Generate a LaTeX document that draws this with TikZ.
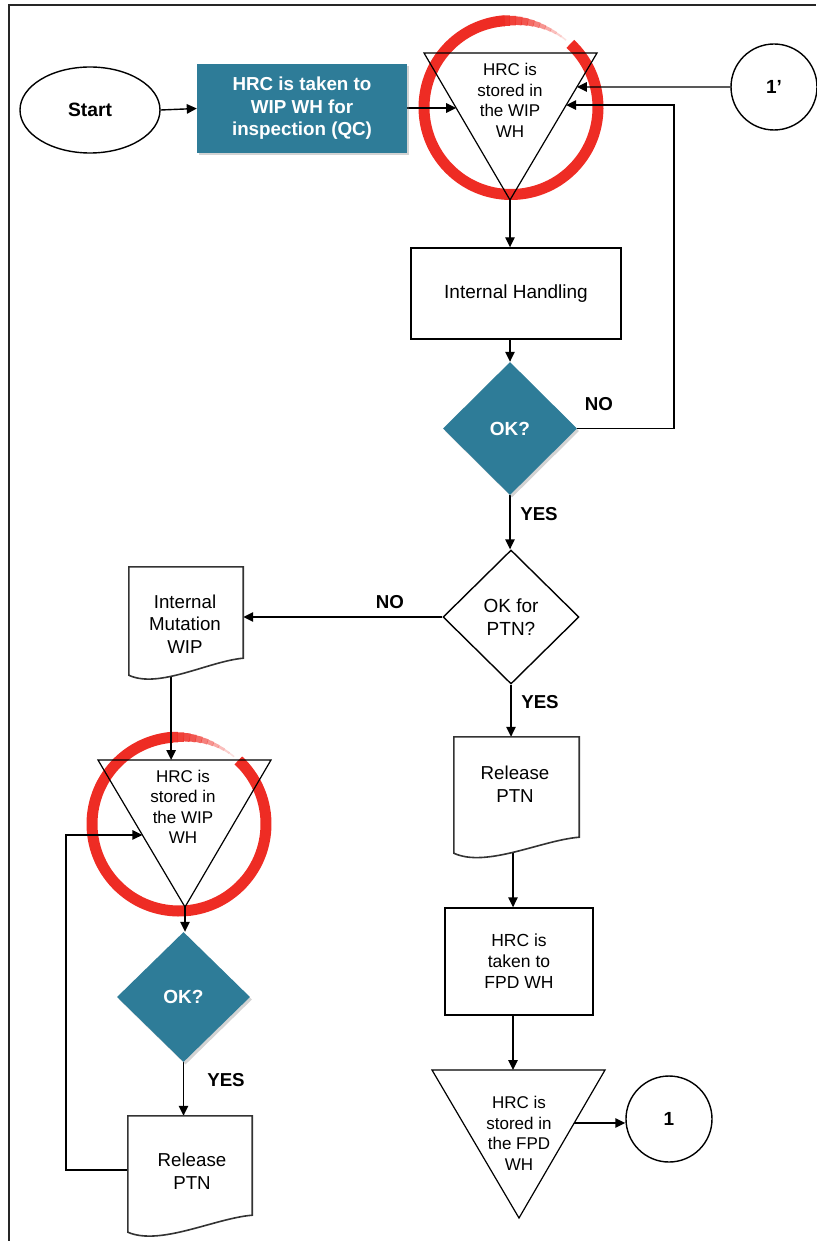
\documentclass[tikz,border=0pt]{standalone}
\usepackage{fontspec}
\setmainfont{Liberation Sans}
\usetikzlibrary{shapes.geometric,arrows.meta,calc,shadows}
\pgfdeclarelayer{back}
\pgfsetlayers{back,main}

\definecolor{qcblue}{RGB}{46,124,152}
\definecolor{ringred}{RGB}{238,44,36}

% document symbol: straight top and sides, wavy bottom edge
\newcommand\docoutline[2]{%
  \filldraw[docline] (#1.north west) -- (#1.north east) -- (#1.south east)
    .. controls ($(#1.south west)!0.70!(#1.south east)+(0,3)$)
       and ($(#1.south west)!0.26!(#1.south east)+(0,31)$)
    .. ($(#1.south west)+(0,#2)$) -- cycle;}

% hand-drawn highlight ring, open at the upper right, tapering out at its end
\newcommand\brushring[1]{%
  \draw[ringred, line width=11pt] ($(#1)+(-47:87)$) arc[start angle=-47, end angle=266, radius=87];
  \foreach \s/\w/\o in {265/10.5/0.95, 269/9.5/0.9, 273/8.5/0.85, 277/7.5/0.8,
                        281/6.5/0.7, 285/5.5/0.6, 289/4.5/0.5, 293/3.5/0.4,
                        297/2.8/0.3, 301/2/0.22, 305/1.5/0.15}
    \draw[ringred, line width=\w pt, opacity=\o]
      ($(#1)+(\s:87)$) arc[start angle=\s, end angle=\s+4.3, radius=87];}

\tikzset{
  arr/.style={draw=black, line width=1.4pt, -{Triangle[length=10pt,width=9.5pt]}},
  shapeline/.style={draw=black, line width=1.4pt},
  docline/.style={draw=black!80, line width=1.6pt, fill=white},
  reg/.style={font=\fontsize{17}{20.5}\selectfont, align=center, text=black},
  docfont/.style={font=\fontsize{18.7}{22.5}\selectfont, align=center, text=black},
  lbl/.style={font=\bfseries\fontsize{18.7}{21}\selectfont, text=black},
  bluefill/.style={fill=qcblue, text=white,
    drop shadow={shadow xshift=2pt, shadow yshift=-2.5pt, opacity=0.35}},
  bluediamond/.style={bluefill, diamond, inner sep=0pt,
    font=\bfseries\fontsize{19}{22}\selectfont},
  procbox/.style={shapeline, rectangle, align=center},
  docbox/.style={rectangle, inner sep=0pt},
  connector/.style={shapeline, circle, inner sep=0pt, minimum size=86pt,
    font=\bfseries\fontsize{19}{22}\selectfont},
}

\begin{document}
\begin{tikzpicture}[x=1pt, y=-1pt]
\useasboundingbox (0,0) rectangle (816,1241);

% page frame
\draw[line width=2pt, black!85] (9,1241) -- (9,5) -- (816,5);

% highlight rings (underneath everything)
\begin{pgfonlayer}{back}
  \coordinate (ringA) at (511,107.5);
  \coordinate (ringB) at (179,824);
  \brushring{ringA}
  \brushring{ringB}
\end{pgfonlayer}

% ---- top row ----
\node[ellipse, shapeline, minimum width=140pt, minimum height=86pt,
      font=\bfseries\fontsize{19.3}{22}\selectfont] (start) at (90,110) {Start};

\node[bluefill, rectangle, minimum width=210pt, minimum height=89pt, align=center,
      font=\bfseries\fontsize{18.8}{22.5}\selectfont] (qc) at (302,108.5)
      {HRC is taken to\\WIP WH for\\inspection (QC)};

% storage triangle 1
\coordinate (t1a) at (424,53);
\coordinate (t1b) at (597,53);
\coordinate (t1c) at (510,200);
\draw[shapeline, line width=1.2pt] (t1a) -- (t1b) -- (t1c) -- cycle;
\node[reg] (t1T) at (510,100.5) {HRC is\\stored in\\the WIP\\WH};

\node[connector] (c1p) at (774,87) {1’};

% ---- main column ----
\node[procbox, minimum width=210pt, minimum height=91pt,
      font=\fontsize{19}{22}\selectfont] (ih) at (516,293.5) {Internal Handling};

\node[bluediamond, minimum width=134pt, minimum height=133pt] (ok1) at (510,428.5) {OK?};

\node[shapeline, diamond, inner sep=0pt, minimum width=136pt, minimum height=134pt,
      align=center, font=\fontsize{19}{23}\selectfont] (okp) at (511,617) {OK for\\PTN?};

% Release PTN (right)
\node[docbox, minimum width=125pt, minimum height=100pt] (relR) at (516.5,787) {};
\docoutline{relR}{16}
\node[docfont] (relRT) at (515,784) {Release\\PTN};

\node[procbox, minimum width=148pt, minimum height=107pt,
      font=\fontsize{17.5}{21}\selectfont] (fpd) at (519,961.5) {HRC is\\taken to\\FPD WH};

% storage triangle 3
\coordinate (t3a) at (432,1070);
\coordinate (t3b) at (605,1070);
\coordinate (t3c) at (519,1218);
\draw[shapeline, line width=1.2pt] (t3a) -- (t3b) -- (t3c) -- cycle;
\node[reg] (t3T) at (519,1133.5) {HRC is\\stored in\\the FPD\\WH};

\node[connector] (c1) at (669,1119) {1};

% ---- left column ----
\node[docbox, minimum width=114pt, minimum height=91pt] (imw) at (186,612.5) {};
\docoutline{imw}{17}
\node[docfont] (imwT) at (185,624) {Internal\\Mutation\\WIP};

% storage triangle 2
\coordinate (t2a) at (98,760);
\coordinate (t2b) at (271,760);
\coordinate (t2c) at (185,907);
\draw[shapeline, line width=1.2pt] (t2a) -- (t2b) -- (t2c) -- cycle;
\node[reg] (t2T) at (183,807) {HRC is\\stored in\\the WIP\\WH};

\node[bluediamond, minimum width=133pt, minimum height=130pt] (ok2) at (183.5,997) {OK?};

\node[docbox, minimum width=124pt, minimum height=99pt] (relL) at (190,1165.5) {};
\docoutline{relL}{17}
\node[docfont] (relLT) at (192,1171) {Release\\PTN};

% ---- branch labels ----
\node[lbl] (lno1) at (599,404) {NO};
\node[lbl] (lyes1) at (539,514) {YES};
\node[lbl] (lno2) at (390,602) {NO};
\node[lbl] (lyes2) at (540,702) {YES};
\node[lbl] (lyes3) at (226,1080) {YES};

% ---- connectors ----
\coordinate (inL1) at ($(t1a)!0.374!(t1c)$);
\coordinate (inR1) at ($(t1b)!0.231!(t1c)$);
\coordinate (inR2) at ($(t1b)!0.354!(t1c)$);
\coordinate (loopR) at (674,0);
\coordinate (inL2) at ($(t2a)!0.51!(t2c)$);
\coordinate (loopL) at (66,0);
\coordinate (imwx) at ($(imw.south west)!0.37!(imw.south east)$);
\coordinate (relLx) at ($(relL.west)+(0,4.5)$);
\coordinate (colR) at (513,0);
\coordinate (out3) at ($(t3b)!0.358!(t3c)$);

\begin{pgfonlayer}{back}
  \draw[arr] (start.east) -- (qc.west);
  \draw[arr] (qc.east |- inL1) -- (inL1);
  \draw[arr] (c1p.west) -- (inR1);
  \draw[arr] (ok1.east) -| (loopR |- inR2) -- (inR2);
  \draw[arr] (t1c) -- (t1c |- ih.north);
  \draw[arr] (ok1.north |- ih.south) -- (ok1.north);
  \draw[arr] (ok1.south) -- (ok1.south |- okp.north);
  \draw[arr] (okp.west) -- (imw.east |- okp.west);
  \draw[arr] (okp.south) -- (okp.south |- relR.north);
  \draw[arr] (colR |- relR.south) -- (colR |- fpd.north);
  \draw[arr] (colR |- fpd.south) -- (colR |- t3a);
  \draw[arr] (out3) -- (c1.west |- out3);
  \draw[arr] (imwx) -- (imwx |- t2a);
  \draw[arr] (t2c) -- (t2c |- ok2.north);
  \draw[arr] (ok2.south) -- (ok2.south |- relL.north);
  \draw[arr] (relLx) -- (loopL |- relLx) |- (inL2);
\end{pgfonlayer}

\end{tikzpicture}
\end{document}
